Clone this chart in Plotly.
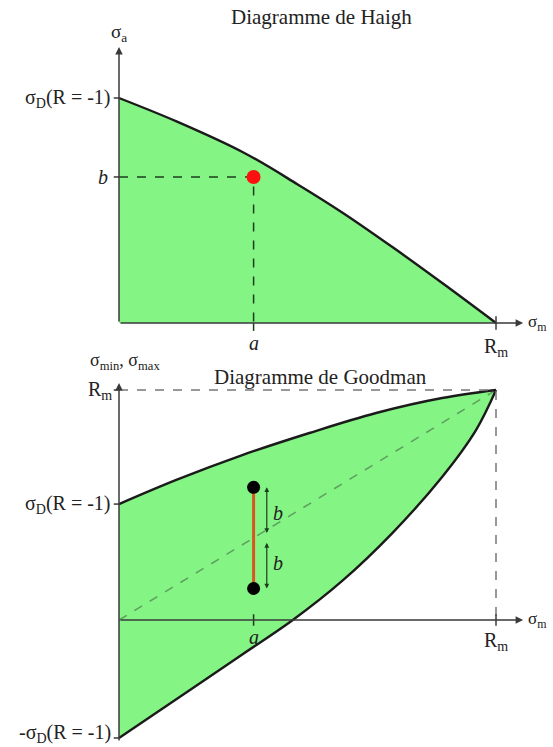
import plotly.graph_objects as go

# Haigh diagram (sigma_m in units of Rm, sigma_a in units of sigma_D)
haigh_sm = [0.0, 0.154, 0.330, 0.473, 0.596, 0.729, 0.862, 1.0]
haigh_sa = [1.0, 0.895, 0.758, 0.617, 0.487, 0.333, 0.172, 0.0]

# Goodman diagram (both axes in units of Rm)
good_sm_max = [0.0, 0.152, 0.327, 0.505, 0.682, 0.857, 1.0]
good_smax = [0.504, 0.609, 0.717, 0.813, 0.900, 0.965, 1.0]
good_sm_min = [0.0, 0.152, 0.327, 0.461, 0.592, 0.725, 0.857, 0.947, 1.0]
good_smin = [-0.513, -0.345, -0.150, 0.0, 0.170, 0.378, 0.622, 0.826, 1.0]

# working point: mean stress a, amplitude b
point_a = 0.357
haigh_b = 0.649
good_b = 0.22

W, H = 553, 747
FONT = "Liberation Serif, Times New Roman, serif"
GREEN = "#84F484"
EDGE = "#1b1b1b"
AXIS = "#3a3a3a"
DARK = "#1d3d1d"


def x_range(p0, p1):
    unit = p1 - p0
    return [-p0 / unit, (W - p0) / unit]


def y_range(p0, p1):
    unit = p0 - p1
    return [(p0 - H) / unit, p0 / unit]


fig = go.Figure()

# ---- Haigh ----
fig.add_trace(go.Scatter(
    x=haigh_sm + [0.0], y=haigh_sa + [0.0], fill="toself", fillcolor=GREEN,
    mode="lines", line=dict(width=0), xaxis="x", yaxis="y", hoverinfo="skip"))
fig.add_trace(go.Scatter(
    x=haigh_sm, y=haigh_sa, mode="lines", line=dict(color=EDGE, width=2.4, shape="spline"),
    xaxis="x", yaxis="y"))
fig.add_trace(go.Scatter(
    x=[0, point_a, point_a], y=[haigh_b, haigh_b, 0], mode="lines",
    line=dict(color=DARK, width=1.5, dash="dash"), xaxis="x", yaxis="y"))
fig.add_trace(go.Scatter(
    x=[point_a], y=[haigh_b], mode="markers",
    marker=dict(color="#ff1010", size=14), xaxis="x", yaxis="y"))

# ---- Goodman ----
fig.add_trace(go.Scatter(
    x=good_sm_max + good_sm_min[::-1], y=good_smax + good_smin[::-1], fill="toself",
    fillcolor=GREEN, mode="lines", line=dict(width=0), xaxis="x2", yaxis="y2", hoverinfo="skip"))
fig.add_trace(go.Scatter(
    x=[0, 1], y=[0, 1], mode="lines", line=dict(color="#5f9f5f", width=1.5, dash="dash"),
    xaxis="x2", yaxis="y2"))
fig.add_trace(go.Scatter(
    x=good_sm_max, y=good_smax, mode="lines", line=dict(color=EDGE, width=2.4, shape="spline"),
    xaxis="x2", yaxis="y2"))
fig.add_trace(go.Scatter(
    x=good_sm_min, y=good_smin, mode="lines", line=dict(color=EDGE, width=2.4, shape="spline"),
    xaxis="x2", yaxis="y2"))
fig.add_trace(go.Scatter(
    x=[0, 1, 1], y=[1, 1, 0], mode="lines", line=dict(color="#777777", width=1.5, dash="dash"),
    xaxis="x2", yaxis="y2"))
fig.add_trace(go.Scatter(
    x=[point_a, point_a], y=[point_a + good_b, point_a - good_b], mode="lines+markers",
    line=dict(color="#d8561f", width=3), marker=dict(color="black", size=13),
    xaxis="x2", yaxis="y2"))

ann = []
shapes = []


def arrow(xr, yr, x0, y0, x1, y1, color=AXIS, width=1.5, side="end", size=1.0):
    ann.append(dict(xref=xr, yref=yr, axref=xr, ayref=yr, x=x1, y=y1, ax=x0, ay=y0,
                    text="", showarrow=True, arrowhead=2, arrowsize=size, arrowwidth=width,
                    arrowcolor=color, arrowside=side))


def label(xr, yr, x, y, text, xanchor="center", xshift=0, yshift=0, size=20):
    ann.append(dict(xref=xr, yref=yr, x=x, y=y, text=text, showarrow=False,
                    xanchor=xanchor, yanchor="middle", xshift=xshift, yshift=yshift,
                    font=dict(family=FONT, size=size, color="#222222")))


def seg(xr, yr, x0, y0, x1, y1, color=AXIS, width=1.5, dash="solid"):
    shapes.append(dict(type="line", xref=xr, yref=yr, x0=x0, y0=y0, x1=x1, y1=y1,
                       line=dict(color=color, width=width, dash=dash)))


# Haigh axes
arrow("x", "y", 0, 0, 0, 1.227)
arrow("x", "y", 0, 0, 1.072, 0)
seg("x", "y", -0.014, 1.0, 0, 1.0)
seg("x", "y", -0.014, haigh_b, 0, haigh_b)
seg("x", "y", point_a, 0, point_a, -0.035, color=DARK)
seg("x", "y", 1.0, 0.03, 1.0, -0.03)
label("x", "y", 0.538, 1.36, "Diagramme de Haigh", size=21)
label("x", "y", 0.0, 1.289, "σ<sub>a</sub>", size=19)
label("x", "y", 0.0, 1.0, "σ<sub>D</sub>(R = -1)", xanchor="right", xshift=-6)
label("x", "y", 0.0, haigh_b, "<i>b</i>", xanchor="right", xshift=-9)
label("x", "y", point_a, 0, "<i>a</i>", yshift=-20)
label("x", "y", 1.0, 0, "R<sub>m</sub>", yshift=-24)
label("x", "y", 1.08, 0, "σ<sub>m</sub>", xanchor="left", size=17)

# Goodman axes
arrow("x2", "y2", 0, -0.53, 0, 1.03)
arrow("x2", "y2", 0, 0, 1.072, 0)
seg("x2", "y2", -0.014, 1.0, 0, 1.0)
seg("x2", "y2", -0.014, good_smax[0], 0, good_smax[0])
seg("x2", "y2", -0.014, good_smin[0], 0, good_smin[0])
seg("x2", "y2", point_a, 0.025, point_a, -0.025, color=DARK)
seg("x2", "y2", 1.0, 0.025, 1.0, -0.025)
arrow("x2", "y2", point_a + 0.035, point_a + 0.015, point_a + 0.035, point_a + good_b,
      color=DARK, width=1.2, side="end+start", size=0.8)
arrow("x2", "y2", point_a + 0.035, point_a - 0.015, point_a + 0.035, point_a - good_b,
      color=DARK, width=1.2, side="end+start", size=0.8)
label("x2", "y2", 0.535, 1.057, "Diagramme de Goodman", size=21)
label("x2", "y2", 0.016, 1.122, "σ<sub>min</sub>, σ<sub>max</sub>", size=18)
label("x2", "y2", 0.0, 1.0, "R<sub>m</sub>", xanchor="right", xshift=-5)
label("x2", "y2", 0.0, good_smax[0], "σ<sub>D</sub>(R = -1)", xanchor="right", xshift=-6)
label("x2", "y2", 0.0, good_smin[0], "-σ<sub>D</sub>(R = -1)", xanchor="right", xshift=-6,
      yshift=4)
label("x2", "y2", point_a + 0.035, point_a + good_b / 2, "<i>b</i>", xanchor="left", xshift=4)
label("x2", "y2", point_a + 0.035, point_a - good_b / 2, "<i>b</i>", xanchor="left", xshift=4)
label("x2", "y2", point_a, 0, "<i>a</i>", yshift=-17)
label("x2", "y2", 1.0, 0, "R<sub>m</sub>", yshift=-21)
label("x2", "y2", 1.08, 0, "σ<sub>m</sub>", xanchor="left", size=17)

hidden = dict(visible=False, fixedrange=True)
fig.update_layout(
    width=W, height=H, margin=dict(l=0, r=0, t=0, b=0),
    paper_bgcolor="white", plot_bgcolor="rgba(0,0,0,0)", showlegend=False,
    xaxis=dict(domain=[0, 1], range=x_range(119, 496), anchor="y", **hidden),
    yaxis=dict(domain=[0, 1], range=y_range(323, 98), anchor="x", **hidden),
    xaxis2=dict(domain=[0, 1], range=x_range(119, 496), anchor="y2", overlaying="x", **hidden),
    yaxis2=dict(domain=[0, 1], range=y_range(620, 390), anchor="x2", overlaying="y", **hidden),
    annotations=ann, shapes=shapes,
)

fig.write_html("out.html", config={"displayModeBar": False},
               post_script="document.body.style.margin='0px';document.body.style.overflow='hidden';")
